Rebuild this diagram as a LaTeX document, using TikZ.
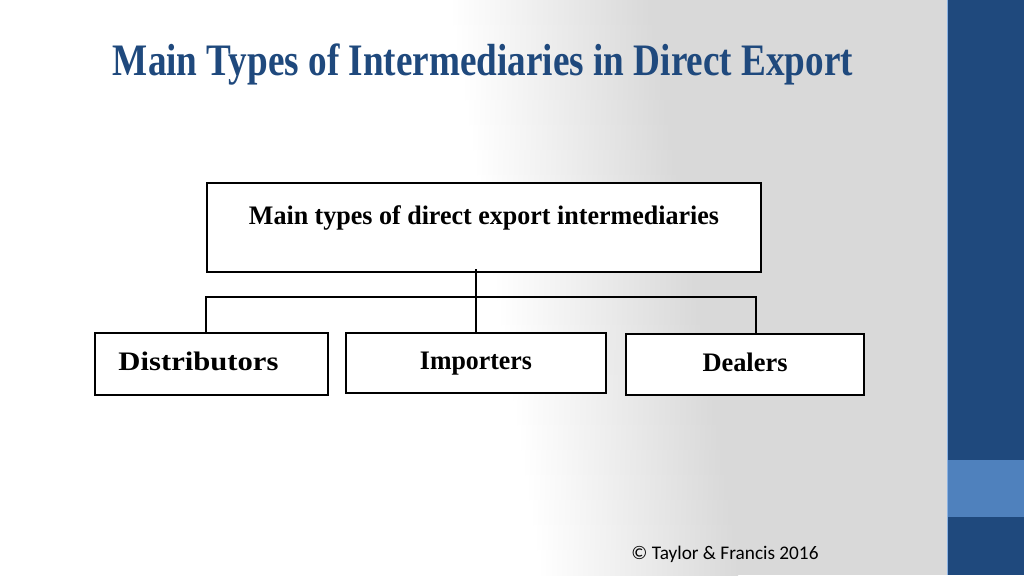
\documentclass[tikz,border=0pt]{standalone}
\usepackage{fontspec}
\setmainfont{Liberation Serif}
\newfontfamily\footfont{Carlito}
\usepackage{graphicx}

\definecolor{titleblue}{HTML}{1F497D}
\definecolor{barblue}{HTML}{1F497D}
\definecolor{lightblue}{HTML}{4F81BD}
\definecolor{edgeblue}{HTML}{8DB3E2}
\definecolor{bggray}{HTML}{D9D9D9}

\tikzset{
  typebox/.style={draw=black, line width=1.4pt, fill=white, rectangle,
    inner sep=0pt, text height=0.45cm, text depth=0.12cm,
    font=\fontsize{19}{19}\selectfont\bfseries},
  link/.style={draw=black, line width=1.1pt}
}

\begin{document}
\begin{tikzpicture}[x=0.025cm, y=-0.025cm]
      % Slide background
      \useasboundingbox (0,0) rectangle (1024,575);
      \fill[bggray] (0,0) rectangle (947,575);
      \fill[white] (0,0) -- (450,0) -- (542,575) -- (0,575) -- cycle;
      % slanted white-to-gray band, built from strips
      \foreach \i in {0,...,22} {
        \shade[left color=white, right color=bggray]
          ({450+\i*4},{\i*25}) rectangle ({650+\i*4},{\i*25+25.5});
      }

      % Side bar on the right
      \fill[barblue] (947,0) rectangle (1024,575);
      \fill[lightblue] (947,460) rectangle (1024,517);
      \draw[edgeblue, line width=0.6pt] (947.5,0) -- (947.5,575);

      % Title
      \node[anchor=base, text=titleblue, font=\fontsize{32}{32}\selectfont\bfseries]
        (title) at (483,75) {\resizebox{18.5cm}{\height}{Main Types of Intermediaries in Direct Export}};

      % Top box
      \node[typebox, minimum width=13.85cm, text height=1.025cm, text depth=1.2cm]
        (main) at (484,227.5) {\resizebox{11.75cm}{\height}{Main types of direct export intermediaries}};

      % The three kinds of intermediaries
      \node[typebox, minimum width=5.825cm, minimum height=1.55cm]
        (dist) at (211.5,364) {\resizebox{4.0cm}{\height}{Distributors}\kern0.65cm};
      \node[typebox, minimum width=6.5cm, minimum height=1.5cm]
        (imp) at (476,363) {\resizebox{2.8cm}{\height}{Importers}};
      \node[typebox, minimum width=5.95cm, minimum height=1.525cm]
        (deal) at (745,364.5) {\resizebox{2.125cm}{\height}{Dealers}};

      % Connectors
      \coordinate (busL) at (206,297);
      \coordinate (busR) at (756,297);
      \draw[link] (imp.north) -- ([yshift=3pt]imp.north |- main.south);
      \draw[link] (dist.north -| busL) -- (busL) -- (busR) -- (deal.north -| busR);

      % Footer
      \node[anchor=base, font=\footfont\fontsize{13.7}{13.7}\selectfont]
        (copy) at (725,559) {© Taylor \& Francis 2016};
    \end{tikzpicture}
\end{document}
